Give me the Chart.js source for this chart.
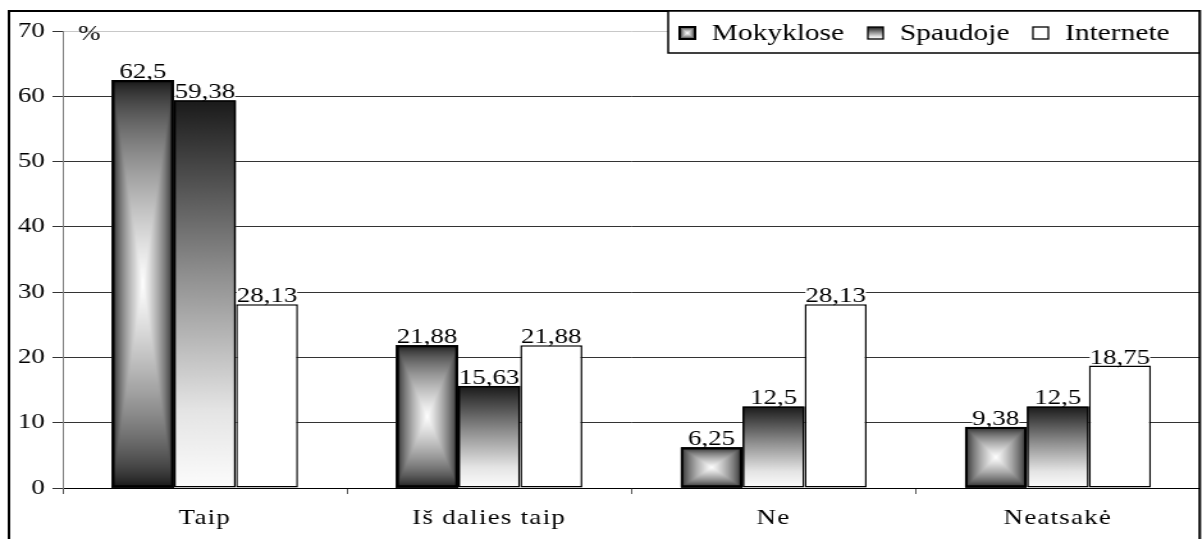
<!DOCTYPE html>
<html>
<head>
<meta charset="utf-8">
<script src="https://cdn.jsdelivr.net/npm/chart.js@4.4.1/dist/chart.umd.min.js"></script>
<style>
html, body { margin: 0; padding: 0; background: #fff; overflow: hidden; }
/* the source picture is stretched sideways, so the chart is too */
#wrap { width: 939px; height: 539px; transform: scaleX(1.28); transform-origin: 0 0; }
</style>
</head>
<body>
<div id="wrap"><canvas id="chart" width="939" height="539"></canvas></div>
<script>
const categories = ['Taip', 'Iš dalies taip', 'Ne', 'Neatsakė'];
const seriesNames = ['Mokyklose', 'Spaudoje', 'Internete'];
const mokyklose = [62.5, 21.88, 6.25, 9.38];
const spaudoje = [59.38, 15.63, 12.5, 12.5];
const internete = [28.13, 21.88, 28.13, 18.75];
const yTicks = [0, 10, 20, 30, 40, 50, 60, 70];

const SERIF = "'Liberation Serif', 'Times New Roman', Times, serif";

// rectangular "from centre" gradient: white in the middle, black at the edges
function rectGradient(w, h) {
    const c = document.createElement('canvas');
    c.width = Math.max(1, Math.round(w));
    c.height = Math.max(1, Math.round(h));
    const g = c.getContext('2d');
    const img = g.createImageData(c.width, c.height);
    for (let j = 0; j < c.height; j++) {
        for (let i = 0; i < c.width; i++) {
            const dx = Math.abs(i + 0.5 - c.width / 2) / (c.width / 2);
            const dy = Math.abs(j + 0.5 - c.height / 2) / (c.height / 2);
            const t = Math.min(1, Math.max(dx, dy));
            const v = Math.round(15 + 240 * Math.pow(1 - t, 0.65));
            const k = (j * c.width + i) * 4;
            img.data[k] = img.data[k + 1] = img.data[k + 2] = v;
            img.data[k + 3] = 255;
        }
    }
    g.putImageData(img, 0, 0);
    return c;
}

function vertGradient(ctx, top, bottom) {
    const gr = ctx.createLinearGradient(0, top, 0, bottom);
    gr.addColorStop(0, '#1a1a1a');
    gr.addColorStop(0.45, '#8f8f8f');
    gr.addColorStop(0.8, '#e4e4e4');
    gr.addColorStop(1, '#fcfcfc');
    return gr;
}

// gradient fills under the bar borders
const barFills = {
    id: 'barFills',
    beforeDatasetDraw(chart, args) {
        const i = args.index;
        if (i > 1) return;
        const ctx = chart.ctx;
        ctx.save();
        args.meta.data.forEach(el => {
            const p = el.getProps(['x', 'y', 'base', 'width'], true);
            const left = p.x - p.width / 2;
            const top = Math.min(p.y, p.base);
            const h = Math.abs(p.base - p.y);
            if (i === 0) {
                ctx.drawImage(rectGradient(p.width, h), left, top, p.width, h);
            } else {
                ctx.fillStyle = vertGradient(ctx, top, top + h);
                ctx.fillRect(left, top, p.width, h);
            }
        });
        ctx.restore();
    }
};

// value labels with white background
const valueLabels = {
    id: 'valueLabels',
    afterDatasetsDraw(chart) {
        const ctx = chart.ctx;
        ctx.save();
        ctx.font = '21px ' + SERIF;
        ctx.textAlign = 'center';
        ctx.textBaseline = 'alphabetic';
        chart.data.datasets.forEach((ds, d) => {
            chart.getDatasetMeta(d).data.forEach((el, j) => {
                const txt = String(ds.data[j]).replace('.', ',');
                const w = ctx.measureText(txt).width;
                const y = Math.min(el.y, el.base) - 2;
                ctx.fillStyle = '#fff';
                ctx.fillRect(el.x - w / 2, y - 14, w, 14);
                ctx.fillStyle = '#000';
                ctx.fillText(txt, el.x, y);
            });
        });
        ctx.restore();
        // category labels are drawn after this (ticks z: 1), a bit spaced out
        ctx.letterSpacing = '1px';
    }
};

const frameAndLegend = {
    id: 'frameAndLegend',
    afterDraw(chart) {
        const ctx = chart.ctx;
        ctx.letterSpacing = '0px';
        ctx.save();
        // outer frame
        ctx.strokeStyle = '#000';
        ctx.lineWidth = 2;
        ctx.beginPath();
        ctx.moveTo(7, 545);
        ctx.lineTo(7, 11);
        ctx.lineTo(937.3, 11);
        ctx.lineTo(937.3, 545);
        ctx.stroke();

        // unit label
        ctx.fillStyle = '#000';
        ctx.font = '21px ' + SERIF;
        ctx.textAlign = 'left';
        ctx.textBaseline = 'alphabetic';
        ctx.fillText('%', 61, 40);

        // legend
        ctx.fillStyle = '#fff';
        ctx.fillRect(522, 11, 415, 42);
        ctx.lineWidth = 1.5;
        ctx.strokeRect(522, 11, 415, 42);
        ctx.font = '23px ' + SERIF;
        const iconX = [531, 678, 807];
        seriesNames.forEach((name, i) => {
            const x = iconX[i], iy = 27, iw = 12, ih = 12;
            if (i === 0) {
                ctx.drawImage(rectGradient(iw, ih), x, iy, iw, ih);
            } else if (i === 1) {
                ctx.fillStyle = vertGradient(ctx, iy, iy + ih);
                ctx.fillRect(x, iy, iw, ih);
            } else {
                ctx.fillStyle = '#fff';
                ctx.fillRect(x, iy, iw, ih);
            }
            ctx.strokeStyle = '#000';
            ctx.lineWidth = i === 0 ? 2 : 1.3;
            ctx.strokeRect(x, iy, iw, ih);
            ctx.fillStyle = '#000';
            ctx.fillText(name, x + 25, 40);
        });
        ctx.restore();
    }
};

const ctx = document.getElementById('chart').getContext('2d');

new Chart(ctx, {
    type: 'bar',
    data: {
        labels: categories,
        datasets: [{
            label: seriesNames[0],
            data: mokyklose,
            backgroundColor: 'rgba(0,0,0,0)',
            borderColor: '#000',
            borderWidth: 2.2,
            borderSkipped: false
        }, {
            label: seriesNames[1],
            data: spaudoje,
            backgroundColor: 'rgba(0,0,0,0)',
            borderColor: '#000',
            borderWidth: 1.5,
            borderSkipped: false
        }, {
            label: seriesNames[2],
            data: internete,
            backgroundColor: '#fff',
            borderColor: '#000',
            borderWidth: 1.5,
            borderSkipped: false
        }]
    },
    options: {
        responsive: false,
        animation: false,
        layout: { padding: { left: 8, right: 1.5, top: 31, bottom: 0 } },
        datasets: {
            bar: { categoryPercentage: 0.655, barPercentage: 1 }
        },
        plugins: {
            legend: { display: false },
            tooltip: { enabled: false }
        },
        scales: {
            x: {
                offset: true,
                grid: { offset: true, drawOnChartArea: false, tickLength: 6, color: '#555' },
                border: { color: '#000', width: 1 },
                ticks: {
                    color: '#000',
                    font: { family: SERIF, size: 21 },
                    padding: 12,
                    maxRotation: 0,
                    autoSkip: false,
                    z: 1
                },
                afterFit: s => { s.height = 51; }
            },
            y: {
                min: 0,
                max: 70,
                afterBuildTicks: s => { s.ticks = yTicks.map(v => ({ value: v })); },
                grid: {
                    color: c => (c.tick && c.tick.value === 70) ? '#c8c8c8' : '#333',
                    tickColor: '#333',
                    tickLength: 8
                },
                border: { color: '#808080', width: 1 },
                ticks: {
                    color: '#000',
                    font: { family: SERIF, size: 21 },
                    padding: 6
                },
                afterFit: s => { s.width = 41; }
            }
        }
    },
    plugins: [barFills, valueLabels, frameAndLegend]
});
</script>
</body>
</html>
